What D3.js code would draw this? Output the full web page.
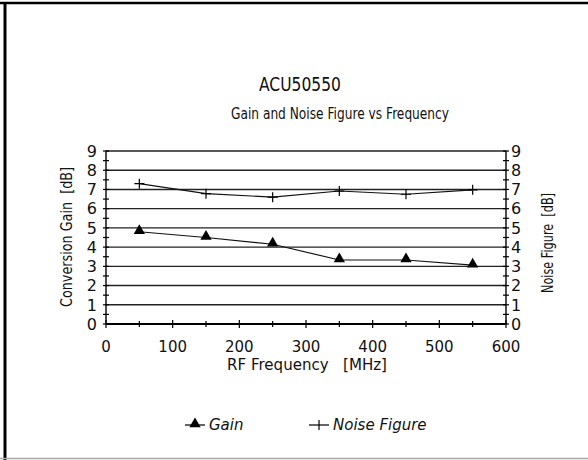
<!DOCTYPE html>
<html>
<head>
<meta charset="utf-8">
<script src="https://cdn.jsdelivr.net/npm/d3@7"></script>
<style>
  body { margin: 0; background: #fff; }
  svg text { font-family: 'DejaVu Sans', sans-serif; fill: #111; }
</style>
</head>
<body>
<div id="chart"></div>
<script>
const width = 588;
const height = 460;

// data
const frequency = [50, 150, 250, 350, 450, 550];
const gain = [4.8, 4.5, 4.15, 3.33, 3.33, 3.06];
const noiseFigure = [7.3, 6.78, 6.6, 6.92, 6.75, 6.98];
const xTicks = [0, 100, 200, 300, 400, 500, 600];
const yTicks = [0, 1, 2, 3, 4, 5, 6, 7, 8, 9];

const margin = { left: 106, right: 82, top: 151, bottom: 136 };

const svg = d3
    .select('#chart')
    .append('svg')
    .attr('width', width)
    .attr('height', height);

// page frame
svg.append('line').attr('x1', 0).attr('x2', width).attr('y1', 3).attr('y2', 3)
    .attr('stroke', '#000').attr('stroke-width', 2.5);
svg.append('line').attr('x1', 5).attr('x2', 5).attr('y1', 2).attr('y2', height)
    .attr('stroke', '#000').attr('stroke-width', 3);
svg.append('line').attr('x1', 0).attr('x2', width).attr('y1', 458.5).attr('y2', 458.5)
    .attr('stroke', '#aaa').attr('stroke-width', 1.5);

const x = d3.scaleLinear().domain([0, 600]).range([margin.left, width - margin.right]);
const y = d3.scaleLinear().domain([0, 9]).range([height - margin.bottom, margin.top]);

// grid lines
svg.append('g')
    .selectAll('line')
    .data(yTicks.filter((d) => d > 0))
    .enter()
    .append('line')
    .attr('x1', x(0))
    .attr('x2', x(600))
    .attr('y1', (d) => y(d))
    .attr('y2', (d) => y(d))
    .attr('stroke', '#222')
    .attr('stroke-width', 1.4);

// left axis
const leftAxis = svg.append('g').attr('transform', `translate(${x(0)},0)`);
leftAxis.append('line').attr('y1', y(0)).attr('y2', y(9)).attr('stroke', '#000').attr('stroke-width', 1.4);
leftAxis.selectAll('.tk')
    .data(d3.range(0, 9.01, 0.5))
    .enter()
    .append('line')
    .attr('x1', -3).attr('x2', 3)
    .attr('y1', (d) => y(d)).attr('y2', (d) => y(d))
    .attr('stroke', '#000').attr('stroke-width', 1.2);
leftAxis.selectAll('text')
    .data(yTicks)
    .enter()
    .append('text')
    .attr('x', -9)
    .attr('y', (d) => y(d))
    .attr('dy', '0.36em')
    .attr('text-anchor', 'end')
    .attr('font-size', 16)
    .text((d) => d);

// right axis
const rightAxis = svg.append('g').attr('transform', `translate(${x(600)},0)`);
rightAxis.append('line').attr('y1', y(0)).attr('y2', y(9)).attr('stroke', '#000').attr('stroke-width', 1.4);
rightAxis.selectAll('.tk')
    .data(d3.range(0, 9.01, 0.5))
    .enter()
    .append('line')
    .attr('x1', -3).attr('x2', 3)
    .attr('y1', (d) => y(d)).attr('y2', (d) => y(d))
    .attr('stroke', '#000').attr('stroke-width', 1.2);
rightAxis.selectAll('text')
    .data(yTicks)
    .enter()
    .append('text')
    .attr('x', 5)
    .attr('y', (d) => y(d))
    .attr('dy', '0.36em')
    .attr('text-anchor', 'start')
    .attr('font-size', 16)
    .text((d) => d);

// bottom axis
const bottomAxis = svg.append('g').attr('transform', `translate(0,${y(0)})`);
bottomAxis.append('line').attr('x1', x(0)).attr('x2', x(600)).attr('stroke', '#000').attr('stroke-width', 2);
bottomAxis.selectAll('.tk')
    .data(d3.range(0, 601, 50))
    .enter()
    .append('line')
    .attr('x1', (d) => x(d)).attr('x2', (d) => x(d))
    .attr('y1', (d) => (d % 100 === 0 ? -4 : -3))
    .attr('y2', (d) => (d % 100 === 0 ? 4 : 3))
    .attr('stroke', '#000').attr('stroke-width', 1.2);
bottomAxis.selectAll('text')
    .data(xTicks)
    .enter()
    .append('text')
    .attr('x', (d) => x(d))
    .attr('y', 28)
    .attr('text-anchor', 'middle')
    .attr('font-size', 15)
    .text((d) => d);

// titles
svg.append('text')
    .attr('x', 300).attr('y', 91)
    .attr('text-anchor', 'middle')
    .attr('font-size', 19)
    .attr('textLength', 82)
    .attr('lengthAdjust', 'spacingAndGlyphs')
    .text('ACU50550');
svg.append('text')
    .attr('x', 340).attr('y', 119)
    .attr('text-anchor', 'middle')
    .attr('font-size', 16)
    .attr('textLength', 218)
    .attr('lengthAdjust', 'spacingAndGlyphs')
    .text('Gain and Noise Figure vs Frequency');
svg.append('text')
    .attr('x', 307).attr('y', 370)
    .attr('text-anchor', 'middle')
    .attr('font-size', 15)
    .attr('xml:space', 'preserve')
    .attr('textLength', 160)
    .attr('lengthAdjust', 'spacingAndGlyphs')
    .text('RF Frequency   [MHz]');
svg.append('text')
    .attr('transform', `translate(72,237) rotate(-90)`)
    .attr('text-anchor', 'middle')
    .attr('font-size', 16)
    .attr('xml:space', 'preserve')
    .attr('textLength', 140)
    .attr('lengthAdjust', 'spacingAndGlyphs')
    .text('Conversion Gain  [dB]');
svg.append('text')
    .attr('transform', `translate(553,243) rotate(-90)`)
    .attr('text-anchor', 'middle')
    .attr('font-size', 16)
    .attr('xml:space', 'preserve')
    .attr('textLength', 100)
    .attr('lengthAdjust', 'spacingAndGlyphs')
    .text('Noise Figure  [dB]');

// series
const gainData = frequency.map((f, i) => ({ f, v: gain[i] }));
const noiseData = frequency.map((f, i) => ({ f, v: noiseFigure[i] }));
const line = d3.line().x((d) => x(d.f)).y((d) => y(d.v));

svg.append('path').datum(gainData).attr('d', line)
    .attr('fill', 'none').attr('stroke', '#111').attr('stroke-width', 1.2);
svg.append('path').datum(noiseData).attr('d', line)
    .attr('fill', 'none').attr('stroke', '#111').attr('stroke-width', 1.2);

const triangle = d3.symbol().type(d3.symbolTriangle).size(55);
svg.selectAll('.gainPt')
    .data(gainData)
    .enter()
    .append('path')
    .attr('d', triangle)
    .attr('transform', (d) => `translate(${x(d.f)},${y(d.v) - 1})`)
    .attr('fill', '#000');

svg.selectAll('.noisePt')
    .data(noiseData)
    .enter()
    .append('path')
    .attr('d', (d) => `M${x(d.f) - 5},${y(d.v)}H${x(d.f) + 5}M${x(d.f)},${y(d.v) - 5}V${y(d.v) + 5}`)
    .attr('stroke', '#000').attr('stroke-width', 1.2);

// legend
const legend = svg.append('g').attr('transform', 'translate(0,425)');
legend.append('line').attr('x1', 185).attr('x2', 205).attr('stroke', '#000').attr('stroke-width', 1.2);
legend.append('path').attr('d', triangle).attr('transform', 'translate(195,-1)').attr('fill', '#000');
legend.append('text').attr('x', 209).attr('y', 5).attr('font-size', 15).attr('font-style', 'italic').text('Gain');
legend.append('line').attr('x1', 309).attr('x2', 329).attr('stroke', '#000').attr('stroke-width', 1.2);
legend.append('path').attr('d', 'M319,-5V5').attr('stroke', '#000').attr('stroke-width', 1.2);
legend.append('text').attr('x', 333).attr('y', 5).attr('font-size', 15).attr('font-style', 'italic').text('Noise Figure');
</script>
</body>
</html>
